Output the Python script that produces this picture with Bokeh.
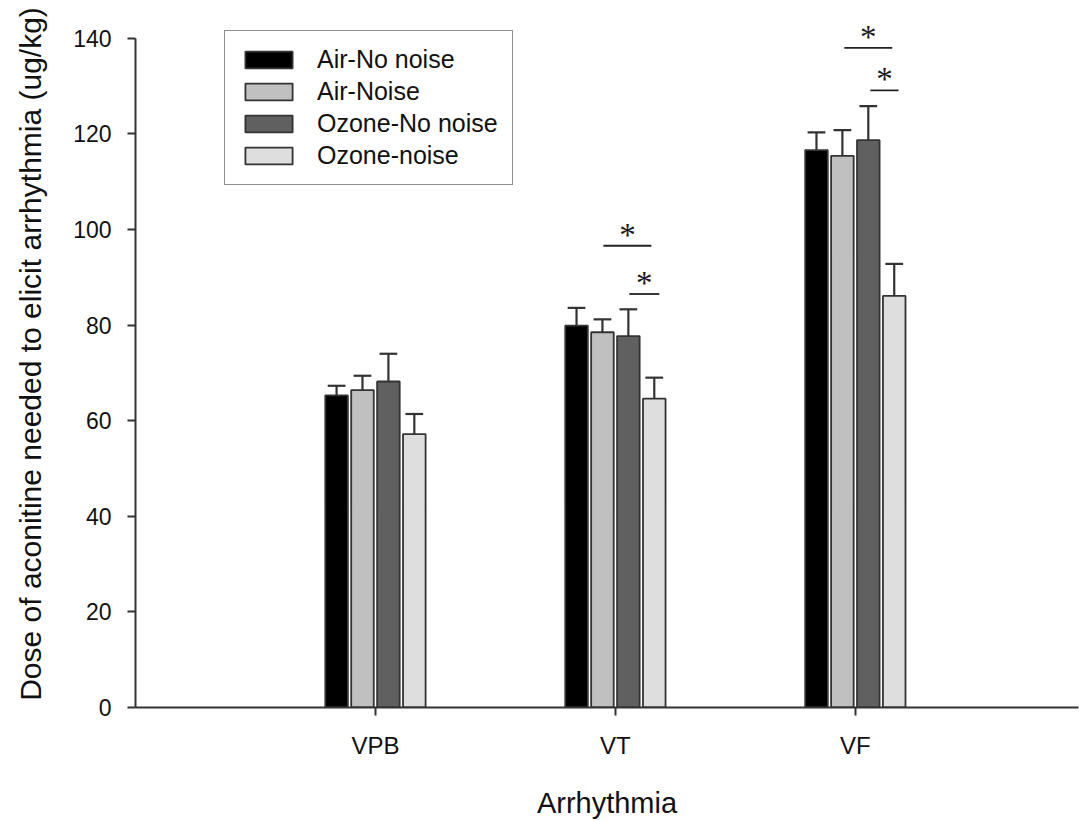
from bokeh.plotting import figure
from bokeh.models import Range1d, FixedTicker, Legend, LegendItem, ColumnDataSource, LabelSet
from bokeh.embed import file_html
from bokeh.resources import INLINE

# ---- data ----
categories = ["VPB", "VT", "VF"]
series_names = ["Air-No noise", "Air-Noise", "Ozone-No noise", "Ozone-noise"]
air_no_noise = [65.3, 79.9, 116.6]
air_noise = [66.4, 78.5, 115.4]
ozone_no_noise = [68.2, 77.7, 118.7]
ozone_noise = [57.2, 64.6, 86.1]
sem_air_no_noise = [2.0, 3.7, 3.7]
sem_air_noise = [3.0, 2.7, 5.4]
sem_ozone_no_noise = [5.8, 5.6, 7.1]
sem_ozone_noise = [4.2, 4.4, 6.7]
y_ticks = [0, 20, 40, 60, 80, 100, 120, 140]

# significance markers (x in category units, y in data units)
sig_x0 = [1.95, 2.058, 2.954, 3.0625]
sig_x1 = [2.15, 2.183, 3.154, 3.18]
sig_y = [96.6, 86.5, 138.0, 129.1]
sig_label = ["*", "*", "*", "*"]

# ---- styling ----
FONT = "Liberation Sans"
fills = ["#000000", "#c0c0c0", "#606060", "#dedede"]
edge = "#333333"
offsets = [-0.162, -0.054, 0.054, 0.162]
bar_w = 0.094
cap_hw = 0.037

# frame spans the full top of the page; the y axis line itself stops at 140
p = figure(width=1079, height=821, x_range=Range1d(0, 3.93), y_range=Range1d(0, 147.9),
           output_backend="svg", toolbar_location=None,
           min_border_left=135, min_border_right=1, min_border_top=0, min_border_bottom=113)
p.outline_line_color = None
p.xgrid.visible = False
p.ygrid.visible = False
p.background_fill_color = "white"
p.border_fill_color = "white"

xpos = [1, 2, 3]
all_means = [air_no_noise, air_noise, ozone_no_noise, ozone_noise]
all_sems = [sem_air_no_noise, sem_air_noise, sem_ozone_no_noise, sem_ozone_noise]

legend_items = []
for i, (name, means, sems) in enumerate(zip(series_names, all_means, all_sems)):
    xs = [x + offsets[i] for x in xpos]
    tops = [m + s for m, s in zip(means, sems)]
    src = ColumnDataSource(dict(x=xs, top=means, err=tops,
                                cl=[x - cap_hw for x in xs], cr=[x + cap_hw for x in xs]))
    p.segment(x0="x", y0="top", x1="x", y1="err", source=src, line_color=edge, line_width=2.2)
    p.segment(x0="cl", y0="err", x1="cr", y1="err", source=src, line_color=edge, line_width=2.2)
    r = p.vbar(x="x", top="top", bottom=0, width=bar_w, source=src,
               fill_color=fills[i], line_color=edge, line_width=1.8)
    legend_items.append(LegendItem(label=name, renderers=[r]))

# significance
p.segment(x0=sig_x0, y0=sig_y, x1=sig_x1, y1=sig_y, line_color="#222222", line_width=1.8)
sig_src = ColumnDataSource(dict(x=[(a + b) / 2 for a, b in zip(sig_x0, sig_x1)],
                                y=sig_y, t=sig_label))
stars = LabelSet(x="x", y="y", text="t", source=sig_src, text_font=FONT,
                 text_font_size="33px", text_align="center", text_baseline="alphabetic",
                 y_offset=0, text_color="#1a1a1a")
p.add_layout(stars)

legend = Legend(items=legend_items, location=(89, 522), orientation="vertical",
                glyph_width=59, glyph_height=21, label_height=21, spacing=3, padding=14,
                label_standoff=19, label_text_font=FONT, label_text_font_size="25px",
                label_text_color="#111111", border_line_color="#222222", border_line_width=1.5,
                background_fill_color="white", background_fill_alpha=1, margin=0)
p.add_layout(legend, "center")

# axes
for ax in (p.xaxis[0], p.yaxis[0]):
    ax.axis_line_color = edge
    ax.axis_line_width = 2
    ax.major_tick_line_color = edge
    ax.major_tick_line_width = 2
    ax.major_tick_out = 8
    ax.major_tick_in = 0
    ax.minor_tick_line_color = None
    ax.major_label_text_font = FONT
    ax.axis_label_text_font = FONT
    ax.axis_label_text_font_style = "normal"
    ax.major_label_text_color = "#111111"
    ax.axis_label_text_color = "#111111"

p.yaxis.ticker = FixedTicker(ticks=y_ticks)
p.yaxis.bounds = (0, 140)
p.yaxis.major_label_text_font_size = "23px"
p.yaxis.major_label_standoff = 16
p.yaxis.axis_label = "Dose of aconitine needed to elicit arrhythmia (ug/kg)"
p.yaxis.axis_label_text_font_size = "30px"
p.yaxis.axis_label_standoff = 23

p.xaxis.ticker = FixedTicker(ticks=xpos)
p.xaxis.major_label_overrides = {x: c for x, c in zip(xpos, categories)}
p.xaxis.major_label_text_font_size = "24px"
p.xaxis.major_label_standoff = 16
p.xaxis.axis_label = "Arrhythmia"
p.xaxis.axis_label_text_font_size = "29px"
p.xaxis.axis_label_standoff = 25

open("out.html", "w").write(file_html(p, INLINE))
